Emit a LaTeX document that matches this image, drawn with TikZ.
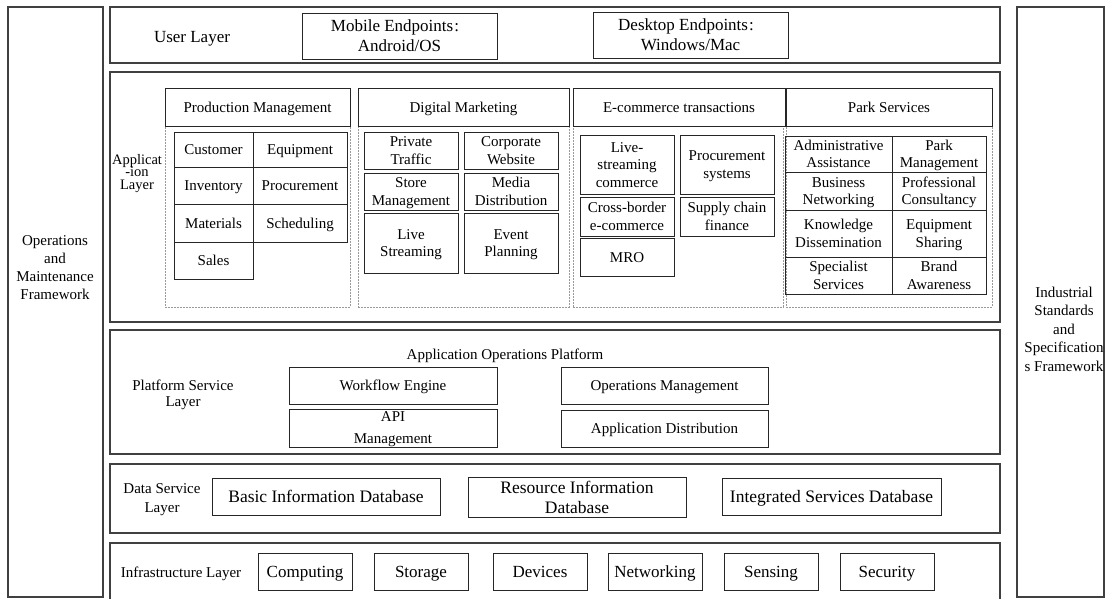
\documentclass[tikz,border=0pt]{standalone}
\usepackage{fontspec}
\setmainfont{Liberation Serif}
\newcommand{\st}{\rule[-0.27em]{0pt}{1.22em}}
\newcommand{\fs}[2]{\fontsize{#1}{#2}\selectfont\lineskiplimit=-20pt\relax}
\tikzset{
  frame/.style={draw=black!75, line width=1.2pt},
  box/.style={draw=black!85, line width=0.9pt, align=center, inner sep=0pt, font=\fs{15}{17.5}},
  grp/.style={draw=black!40, line width=0.5pt, dash pattern=on 2pt off 1pt},
  big/.style={font=\fs{17}{20}},
  lbl/.style={align=center, inner sep=0pt, font=\fs{15}{17.5}},
}
\newcommand{\mybox}[7][]{\node[box,#1,minimum width={(#5-#3)*1pt},minimum height={(#6-#4)*1pt}] (#2) at ({(#3+#5)/2},{(#4+#6)/2}) {\st#7\st};}
\newcommand{\mylbl}[5][]{\node[lbl,#1] (#2) at (#3,#4) {\st#5\st};}
\begin{document}
\begin{tikzpicture}[x=1pt,y=-1pt]
\useasboundingbox (0,0) rectangle (1105,599);
% side frameworks
\mybox[frame]{omf}{8}{7}{103}{597}{}
\mylbl[font=\fs{15}{18}]{omft}{55}{267}{Operations\\and\\Maintenance\\Framework}
\mybox[frame]{isf}{1017}{7}{1104}{597}{}
\mylbl[font=\fs{15}{18.5}]{isft}{1064}{329}{Industrial\\Standards\\and\\Specification\\s Framework}
% user layer
\mybox[frame]{user}{110}{7}{1000}{63}{}
\mylbl[big]{usert}{192}{37}{User Layer}
\mybox[big]{mob}{302}{13}{497}{59}{Mobile Endpoints\kern1pt:\kern9pt\\Android/OS}
\mybox[big]{desk}{593}{12}{788}{58}{Desktop Endpoints\kern1pt:\kern9pt\\Windows/Mac}
% application layer
\mybox[frame]{app}{110}{72}{1000}{322}{}
\mylbl[font=\fs{14.5}{12.7}]{appt}{137}{172}{Applicat\\-ion\\Layer}
% production management
\mybox[grp]{pmg}{165}{126}{350}{307}{}
\mybox{pmh}{165}{88}{350}{126}{Production Management}
\mybox{pm1}{174}{132}{253}{167}{Customer}
\mybox{pm2}{253}{132}{347}{167}{Equipment}
\mybox{pm3}{174}{167}{253}{204}{Inventory}
\mybox{pm4}{253}{167}{347}{204}{Procurement}
\mybox{pm5}{174}{204}{253}{242}{Materials}
\mybox{pm6}{253}{204}{347}{242}{Scheduling}
\mybox{pm7}{174}{242}{253}{279}{Sales}
% digital marketing
\mybox[grp]{dmg}{358}{126}{569}{307}{}
\mybox{dmh}{358}{88}{569}{126}{Digital Marketing}
\mybox{dm1}{364}{132}{458}{169}{Private\\Traffic}
\mybox{dm2}{464}{132}{558}{169}{Corporate\\Website}
\mybox{dm3}{364}{173}{458}{210}{Store\\Management}
\mybox{dm4}{464}{173}{558}{210}{Media\\Distribution}
\mybox{dm5}{364}{213}{458}{273}{Live\\Streaming}
\mybox{dm6}{464}{213}{558}{273}{Event\\Planning}
% e-commerce
\mybox[grp]{ecg}{573}{126}{783}{307}{}
\mybox{ech}{573}{88}{785}{126}{E-commerce transactions}
\mybox{ec1}{580}{135}{674}{194}{Live-\\streaming\\commerce}
\mybox{ec2}{680}{135}{774}{194}{Procurement\\systems}
\mybox{ec3}{580}{197}{674}{236}{Cross-border\\e-commerce}
\mybox{ec4}{680}{197}{774}{236}{Supply chain\\finance}
\mybox{ec5}{580}{238}{674}{276}{MRO}
% park services
\mybox[grp]{psg}{786}{126}{992}{307}{}
\mybox{psh}{786}{88}{992}{126}{Park Services}
\mybox{ps1}{785}{136}{892}{172}{Administrative\\Assistance}
\mybox{ps2}{892}{136}{986}{172}{Park\\Management}
\mybox{ps3}{785}{172}{892}{210}{Business\\Networking}
\mybox{ps4}{892}{172}{986}{210}{Professional\\Consultancy}
\mybox{ps5}{785}{210}{892}{257}{Knowledge\\Dissemination}
\mybox{ps6}{892}{210}{986}{257}{Equipment\\Sharing}
\mybox{ps7}{785}{257}{892}{294}{Specialist\\Services}
\mybox{ps8}{892}{257}{986}{294}{Brand\\Awareness}
% platform service layer
\mybox[frame]{plat}{110}{330}{1000}{454}{}
\mylbl[font=\fs{15}{16}]{platt}{183}{393}{Platform Service\\Layer}
\mylbl{aop}{505}{354}{Application Operations Platform}
\mybox{wf}{289}{367}{497}{404}{Workflow Engine}
\node[box, font=\fs{15}{22}, minimum width=208pt, minimum height=37pt] (api) at (393,428.5) {\rule{0pt}{12pt}API\\Management};
\mybox{om}{561}{367}{768}{404}{Operations Management}
\mybox{ad}{561}{410}{768}{447}{Application Distribution}
% data service layer
\mybox[frame]{data}{110}{464}{1000}{533}{}
\mylbl[font=\fs{15}{19}]{datat}{162}{498}{Data Service\\Layer}
\mybox[font=\fs{17.5}{19.5}]{bid}{212}{478}{440}{515}{Basic Information Database}
\mybox[font=\fs{17.5}{19.5}]{rid}{468}{478}{686}{517}{Resource Information\\Database}
\mybox[font=\fs{17.5}{19.5}]{isd}{722}{478}{941}{515}{Integrated Services Database}
% infrastructure layer
\mybox[frame]{infra}{110}{543}{1000}{600}{}
\mylbl{infrat}{181}{572}{Infrastructure Layer}
\mybox[font=\fs{17}{20}]{i1}{258}{553}{352}{590}{Computing}
\mybox[font=\fs{17}{20}]{i2}{374}{553}{468}{590}{Storage}
\mybox[font=\fs{17}{20}]{i3}{493}{553}{587}{590}{Devices}
\mybox[font=\fs{17}{20}]{i4}{608}{553}{702}{590}{Networking}
\mybox[font=\fs{17}{20}]{i5}{724}{553}{818}{590}{Sensing}
\mybox[font=\fs{17}{20}]{i6}{840}{553}{934}{590}{Security}
\end{tikzpicture}
\end{document}
